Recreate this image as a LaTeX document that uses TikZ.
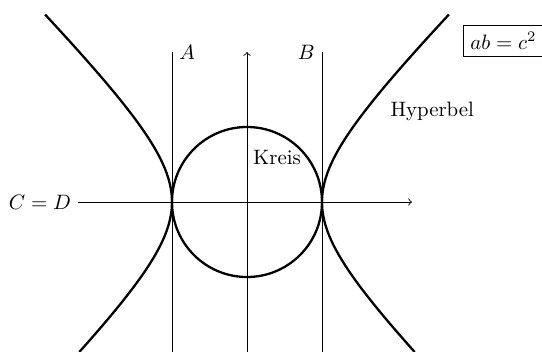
\documentclass[tikz,border=0pt]{standalone}
\begin{document}
\begin{tikzpicture}[x=36pt,y=36pt,
  curve/.style={line width=1.1pt},
  guide/.style={thin}]
\useasboundingbox (-3.2933,-2) rectangle (3.9333,2.6933);
% axes
\coordinate (xl) at (-2.25,0);
\coordinate (xr) at (2.2,0);
\coordinate (yb) at (0,-2);
\coordinate (yt) at (0,2);
\draw[guide,->] (xl) -- (xr);
\draw[guide,->] (yb) -- (yt);
\node[left] (cd) at (xl) {$C = D$};
% tangent lines
\coordinate (a1) at (-1,-2);
\coordinate (a2) at (-1,2);
\coordinate (b1) at (1,-2);
\coordinate (b2) at (1,2);
\draw[guide] (a1) -- (a2);
\draw[guide] (b1) -- (b2);
\node[right] (la) at (a2) {$A$};
\node[left] (lb) at (b2) {$B$};
% circle
\coordinate (o) at (0,0);
\draw[curve] (o) circle (1);
\node (kreis) at (0.4,0.59) {Kreis};
% hyperbola
\draw[curve] plot[variable=\t,domain=-1.4436:1.6472,samples=120,smooth] ({cosh(\t)},{sinh(\t)});
\draw[curve] plot[variable=\t,domain=-1.4436:1.6472,samples=120,smooth] ({-cosh(\t)},{sinh(\t)});
\node (hyp) at (2.47,1.21) {Hyperbel};
\node[draw] (eq) at (3.42,2.15) {$ab = c^2$};
\end{tikzpicture}
\end{document}
